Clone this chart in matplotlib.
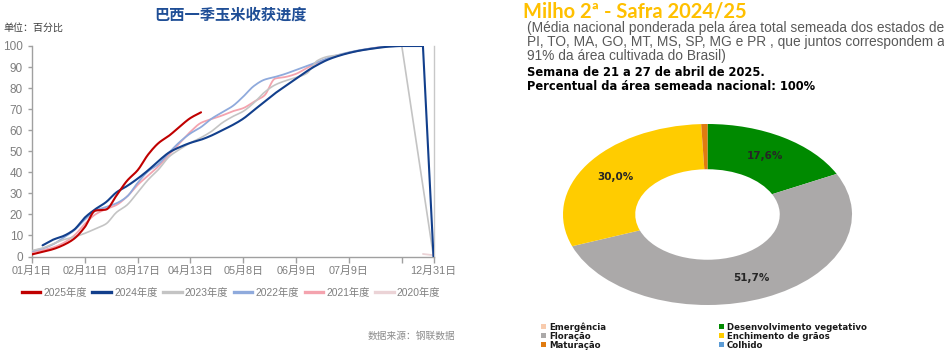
import numpy as np
import matplotlib
matplotlib.use('Agg')
import matplotlib.pyplot as plt
from matplotlib import font_manager
from matplotlib.patches import Patch
from matplotlib.lines import Line2D

nan = np.nan

# ---------------- left chart data ----------------
title_left = '巴西一季玉米收获进度'
unit_text = '单位：百分比'
source_text = '数据来源：钢联数据'
tick_labels = ['01月1日', '02月11日', '03月17日', '04月13日', '05月8日',
               '06月9日', '07月9日', '', '12月31日']
years = ['2025年度', '2024年度', '2023年度', '2022年度', '2021年度', '2020年度']

y2025 = [1.0, 2.2, 3.5, 5.5, 8.5, 14.0, 21.8, 22.3, 29.0, 36.0, 41.0, 48.5, 54.0,
         57.5, 61.8, 65.8, 68.5] + [nan] * 22
y2024 = [nan, 5.3, 8.0, 9.8, 12.8, 18.5, 22.5, 25.8, 30.5, 33.5, 37.0, 41.0, 45.5,
         49.5, 52.0, 54.0, 55.5, 57.5, 60.0, 62.5, 65.5, 69.5, 73.5, 77.5, 81.0,
         84.5, 88.0, 91.0, 93.5, 95.3, 96.7, 97.8, 98.6, 99.3, 99.8, 100.0, 100.0,
         100.0, 0.0]
y2023 = [2.8, 4.0, 6.0, 8.0, 9.3, 11.0, 13.2, 15.5, 21.0, 24.5, 30.5, 36.5, 41.5,
         47.5, 51.0, 54.0, 56.5, 59.5, 63.5, 66.5, 69.0, 73.0, 78.0, 81.5, 83.5,
         85.0, 87.0, 93.0, 95.0, 95.7, 96.8, 97.8, 98.6, 99.3, 99.8, 100.0, nan,
         nan, 0.0]
y2022 = [2.5, 3.8, 5.8, 9.0, 12.5, 17.5, 21.8, 23.5, 25.3, 28.5, 35.0, 40.5, 44.0,
         49.5, 54.5, 58.5, 61.5, 65.5, 68.5, 71.5, 76.0, 81.0, 84.0, 85.3, 86.8,
         88.7, 90.5, 92.3, 94.3, 95.8, 97.0, 98.0, 98.8, 99.4, 99.8, 100.0, nan,
         nan, nan]
y2021 = [2.0, 3.0, 4.3, 6.5, 10.0, 15.5, 20.0, 22.5, 24.5, 28.5, 34.0, 38.5, 43.0,
         48.5, 54.0, 59.3, 63.5, 65.3, 67.0, 69.0, 70.5, 73.5, 76.5, 84.5, 85.3,
         86.8, 89.5, 92.0, 94.0, 95.5, 96.8, 97.8, 98.8, 99.5, 100.0, 100.0, nan,
         nan, nan]
y2020 = [nan] * 37 + [1.2, 0.6]

series_colors = ['#C00000', '#123F8C', '#C4C4C4', '#8FAADC', '#F4A3AE', '#EBD3D6']
series_widths = [1.5, 1.5, 1.2, 1.3, 1.3, 1.3]

# ---------------- right chart data ----------------
title_right = 'Milho 2ª - Safra 2024/25'
desc_lines = ['(Média nacional ponderada pela área total semeada dos estados de',
              'PI, TO, MA, GO, MT, MS, SP, MG e PR , que juntos correspondem a',
              '91% da área cultivada do Brasil)']
bold_lines = ['Semana de 21 a 27 de abril de 2025.',
              'Percentual da área semeada nacional: 100%']
stages = ['Emergência', 'Desenvolvimento vegetativo', 'Floração',
          'Enchimento de grãos', 'Maturação', 'Colhido']
stage_values = [0.0, 17.6, 51.7, 30.0, 0.7, 0.0]
stage_colors = ['#F8CBAD', '#008A00', '#ABA9A9', '#FFCC00', '#E07B10', '#5B9BD5']

# ---------------- fonts ----------------
names = {f.name for f in font_manager.fontManager.ttflist}
narrow = 'Liberation Sans Narrow' if 'Liberation Sans Narrow' in names else 'Liberation Sans'
CJK = 'Noto Sans CJK SC'
lat_cjk = [narrow, CJK]


def smooth(x, y, n=10):
    x = np.asarray(x, float)
    y = np.asarray(y, float)
    m = ~np.isnan(y)
    x, y = x[m], y[m]
    if len(x) < 3:
        return x, y
    h = np.diff(x)
    d = np.diff(y) / h
    t = np.zeros(len(x))
    t[0], t[-1] = d[0], d[-1]
    for k in range(1, len(x) - 1):
        if d[k - 1] * d[k] > 0:
            w1 = 2 * h[k] + h[k - 1]
            w2 = h[k] + 2 * h[k - 1]
            t[k] = (w1 + w2) / (w1 / d[k - 1] + w2 / d[k])
    xs, ys = [], []
    for k in range(len(x) - 1):
        s = np.linspace(0, 1, n, endpoint=False)
        if d[k] < -10:
            yy = y[k] + (y[k + 1] - y[k]) * s
        else:
            h00 = 2 * s**3 - 3 * s**2 + 1
            h10 = s**3 - 2 * s**2 + s
            h01 = -2 * s**3 + 3 * s**2
            h11 = s**3 - s**2
            yy = h00 * y[k] + h10 * h[k] * t[k] + h01 * y[k + 1] + h11 * h[k] * t[k + 1]
        xs.append(x[k] + s * h[k])
        ys.append(yy)
    xs.append([x[-1]])
    ys.append([y[-1]])
    return np.concatenate(xs), np.concatenate(ys)


W, H = 945, 355
fig = plt.figure(figsize=(W / 100, H / 100), dpi=100)
fig.patch.set_facecolor('white')


def fx(px):
    return px / W


def fy(py):
    return 1 - py / H


# ---------------- left line chart ----------------
ax = fig.add_axes([fx(32), fy(256.5), (433.5 - 32) / W, (256.5 - 46) / H])
all_series = [y2025, y2024, y2023, y2022, y2021, y2020]
n_cat = len(y2024)
xcat = np.arange(n_cat)
handles = []
for i in range(len(all_series) - 1, -1, -1):
    sx, sy = smooth(xcat, all_series[i])
    ax.plot(sx, sy, color=series_colors[i], lw=series_widths[i], zorder=3 + (6 - i),
            solid_capstyle='round', solid_joinstyle='round')
for i in range(len(all_series)):
    handles.append(Line2D([], [], color=series_colors[i], lw=2.4))

ax.set_xlim(0, n_cat - 1)
ax.set_ylim(0, 100)
ax.set_yticks(np.arange(0, 101, 10))
tpos = [i * 5 for i in range(len(tick_labels) - 1)] + [n_cat - 1]
ax.set_xticks(tpos)
ax.set_xticklabels(tick_labels)
ax.spines['top'].set_visible(False)
for sp in ['left', 'bottom']:
    ax.spines[sp].set_color('#A0A0A0')
    ax.spines[sp].set_linewidth(1.0)
ax.spines['right'].set_color('#C8C8C8')
ax.spines['right'].set_linewidth(1.0)
ax.tick_params(axis='both', colors='#A0A0A0', labelcolor='#7F7F7F', length=3, width=1,
               direction='out', labelsize=8.5)
ax.tick_params(axis='x', length=4, pad=3, labelsize=7.8)
for lab in ax.get_xticklabels() + ax.get_yticklabels():
    lab.set_family(lat_cjk)
ax.patch.set_alpha(0)

fig.text(fx(231), fy(15), title_left, ha='center', va='center', fontsize=11,
         color='#1F4E96', family=[CJK], fontweight='bold')
fig.text(fx(3), fy(28), unit_text, ha='left', va='center', fontsize=7.2,
         color='#404040', family=[CJK])
fig.text(fx(455), fy(336), source_text, ha='right', va='center', fontsize=7,
         color='#8C8C8C', family=[CJK])

leg = fig.legend(handles, years, loc='center', bbox_to_anchor=(fx(231), fy(293)),
                 ncol=6, frameon=False, handlelength=1.8, handletextpad=0.3,
                 columnspacing=0.55, prop={'family': lat_cjk, 'size': 7.4})
for t in leg.get_texts():
    t.set_color('#7F7F7F')

# ---------------- right panel ----------------
fig.text(fx(523), fy(12), title_right, ha='left', va='center', fontsize=14.5,
         color='#FFC000', family=['Lato', 'DejaVu Sans'], fontweight='bold')
for i, line in enumerate(desc_lines):
    fig.text(fx(527), fy(28 + 14 * i), line, ha='left', va='center', fontsize=9.9,
             color='#595959', family=['Liberation Sans'])
for i, line in enumerate(bold_lines):
    fig.text(fx(527), fy(72 + 15 * i), line, ha='left', va='center', fontsize=8.3,
             color='#000000', family=['DejaVu Sans'], fontweight='bold')

pax = fig.add_axes([fx(563), fy(305), (852 - 563) / W, (305 - 124) / H])


def pct_fmt(p):
    return (f'{p:.1f}%'.replace('.', ',')) if p > 5 else ''


wedges, texts, autotexts = pax.pie(
    stage_values, colors=stage_colors, startangle=90, counterclock=False,
    autopct=pct_fmt, pctdistance=0.76,
    wedgeprops={'width': 0.5, 'linewidth': 0},
    textprops={'fontsize': 7.5, 'fontweight': 'bold', 'color': '#262626',
               'family': 'DejaVu Sans'})
pax.set_aspect('auto')
pax.set_xlim(-1, 1)
pax.set_ylim(-1, 1)
pax.axis('off')

order = list(range(0, len(stages), 2)) + list(range(1, len(stages), 2))
p_handles = [Patch(facecolor=stage_colors[i], edgecolor='none') for i in order]
p_labels = [stages[i] for i in order]
leg2 = fig.legend(p_handles, p_labels, loc='upper left',
                  bbox_to_anchor=(fx(537), fy(318)), ncol=2, frameon=False,
                  handlelength=0.6, handleheight=0.5, handletextpad=0.3,
                  columnspacing=13.1, labelspacing=0.0, borderpad=0,
                  prop={'family': 'DejaVu Sans', 'weight': 'bold', 'size': 6.2})
for t in leg2.get_texts():
    t.set_color('#1A1A1A')

fig.savefig('out.png', dpi=100, facecolor='white')
